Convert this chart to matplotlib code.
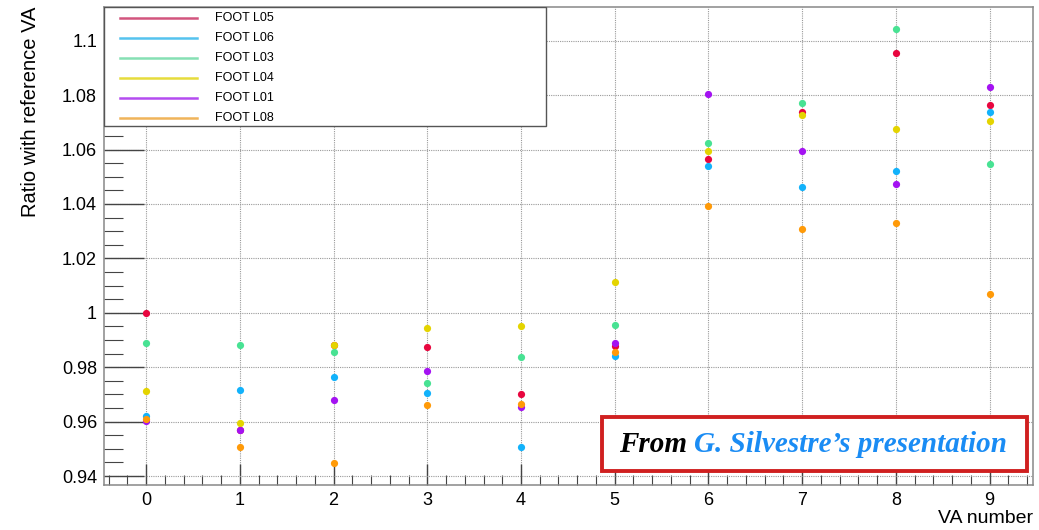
import matplotlib.pyplot as plt
from matplotlib.ticker import MultipleLocator
import numpy as np

# Gain ratio of every VA chip relative to the reference VA, one series per FOOT ladder
va_number = [0, 1, 2, 3, 4, 5, 6, 7, 8, 9]

foot_l05 = [1.0000, 0.9568, 0.9881, 0.9873, 0.9701, 0.9879, 1.0564, 1.0737, 1.0954, 1.0765]
foot_l06 = [0.9621, 0.9718, 0.9765, 0.9705, 0.9505, 0.9842, 1.0540, 1.0463, 1.0522, 1.0739]
foot_l03 = [0.9889, 0.9881, 0.9854, 0.9743, 0.9836, 0.9954, 1.0623, 1.0770, 1.1044, 1.0546]
foot_l04 = [0.9712, 0.9594, 0.9881, 0.9945, 0.9950, 1.0112, 1.0596, 1.0727, 1.0674, 1.0704]
foot_l01 = [0.9601, 0.9568, 0.9680, 0.9787, 0.9652, 0.9890, 1.0803, 1.0596, 1.0474, 1.0829]
foot_l08 = [0.9610, 0.9505, 0.9447, 0.9661, 0.9663, 0.9857, 1.0392, 1.0308, 1.0330, 1.0068]

series = [
    ("FOOT L05", foot_l05, "#e8063f", "#d2557e"),
    ("FOOT L06", foot_l06, "#12b2fb", "#55c3ee"),
    ("FOOT L03", foot_l03, "#48e293", "#86e0b4"),
    ("FOOT L04", foot_l04, "#e4d400", "#e6dc3c"),
    ("FOOT L01", foot_l01, "#a412f2", "#b44cf0"),
    ("FOOT L08", foot_l08, "#ff9a08", "#f0b45a"),
]

plt.rcParams['font.family'] = ['Liberation Sans', 'DejaVu Sans']

fig = plt.figure(figsize=(10.39, 5.30), dpi=100)
ax = fig.add_axes([0.1001, 0.0849, 0.8938, 0.9025])

for name, vals, col, lcol in series:
    ax.plot(va_number, vals, 'o', ms=5.2, color=col, mec='none', zorder=3)

ax.set_xlim(-0.45, 9.46)
ax.set_ylim(0.9367, 1.1125)

ax.xaxis.set_major_locator(MultipleLocator(1))
ax.xaxis.set_minor_locator(MultipleLocator(0.2))
ax.yaxis.set_major_locator(MultipleLocator(0.02))
ax.yaxis.set_minor_locator(MultipleLocator(0.005))

ax.set_yticks([0.94, 0.96, 0.98, 1.0, 1.02, 1.04, 1.06, 1.08, 1.1])
ax.set_yticklabels(["0.94", "0.96", "0.98", "1", "1.02", "1.04", "1.06", "1.08", "1.1"])

ax.tick_params(axis='both', which='both', direction='in', colors='#444444',
               labelcolor='black', labelsize=13)
ax.tick_params(axis='x', which='major', length=15, width=1, pad=5)
ax.tick_params(axis='x', which='minor', length=7, width=0.8)
ax.tick_params(axis='y', which='major', length=29, width=1, pad=5)
ax.tick_params(axis='y', which='minor', length=14, width=0.8)

ax.grid(True, which='major', linestyle=(0, (1, 1)), linewidth=0.8, color='#9a9a9a', zorder=0)
for sp in ax.spines.values():
    sp.set_color('#888888')
    sp.set_linewidth(1.1)

ax.set_xlabel("VA number", fontsize=14, ha='right', va='center')
ax.xaxis.set_label_coords(1.0, -0.0705)
ax.set_ylabel("Ratio with reference VA", fontsize=14.5, ha='right', va='center')
ax.yaxis.set_label_coords(-0.0795, 1.0)

# legend box in the top left corner, drawn by hand like the ROOT TLegend
leg_x0, leg_x1 = -0.45, 4.27
leg_top, leg_bot = 1.1125, 1.0687
ax.fill([leg_x0, leg_x1, leg_x1, leg_x0], [leg_bot, leg_bot, leg_top, leg_top],
        facecolor='white', edgecolor='#555555', linewidth=1.0, zorder=4)
row_h = (leg_top - leg_bot) / 6
for i, (name, vals, col, lcol) in enumerate(series):
    yy = leg_top - row_h * (i + 0.5) - 0.0006
    ax.plot([-0.28, 0.54], [yy, yy], color=lcol, lw=1.8, zorder=5)
    ax.text(0.73, yy, name, fontsize=9, va='center', ha='left', zorder=5)

# source note in a red frame, lower right
box = plt.Rectangle((0.5795, 0.1113), 0.4088, 0.1025, transform=fig.transFigure,
                    facecolor='white', edgecolor='#d02020', linewidth=2.8, zorder=6)
fig.patches.append(box)
t1 = fig.text(0.5955, 0.161, "From ", fontsize=21, family='Liberation Serif',
              weight='bold', style='italic', color='black', va='center', zorder=7)
fig.canvas.draw()
bb = t1.get_window_extent()
x2 = bb.x1 / fig.bbox.width
fig.text(x2, 0.161, "G. Silvestre\u2019s presentation", fontsize=21, family='Liberation Serif',
         weight='bold', style='italic', color='#1a8cf4', va='center', zorder=7)

fig.savefig("out.png", dpi=100)
